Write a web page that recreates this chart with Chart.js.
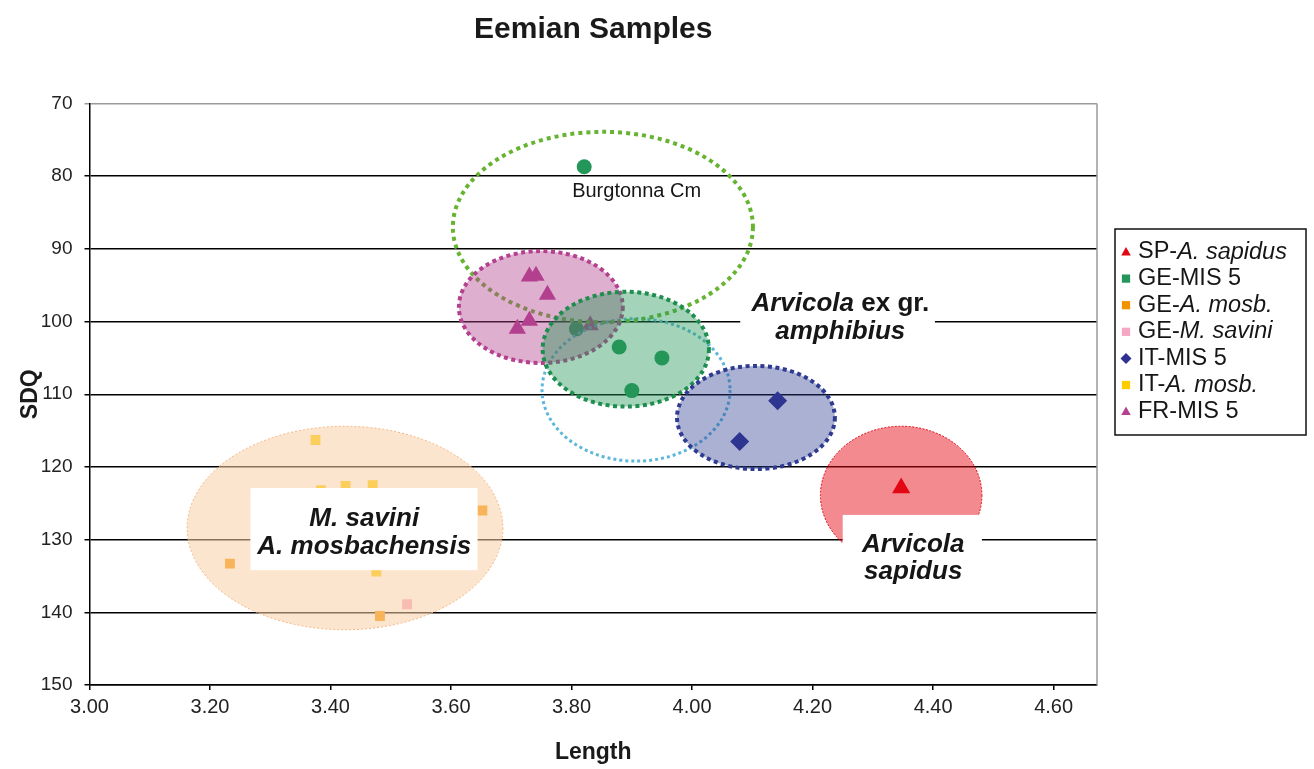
<!DOCTYPE html>
<html>
<head>
<meta charset="utf-8">
<title>Eemian Samples</title>
<script src="https://cdn.jsdelivr.net/npm/chart.js@4.4.1/dist/chart.umd.min.js"></script>
<style>
  html, body { margin: 0; padding: 0; background: #fff; }
  #wrap { width: 1314px; height: 769px; position: relative; }
</style>
</head>
<body>
<div id="wrap"><canvas id="eemianChart"></canvas></div>
<script>
const FONT = '"Liberation Sans", Arial, Helvetica, sans-serif';

// axis ticks
const xTicks = [3.0, 3.2, 3.4, 3.6, 3.8, 4.0, 4.2, 4.4, 4.6];
const yTicks = [70, 80, 90, 100, 110, 120, 130, 140, 150];

// series: Length (x) and SDQ (y)
const spLength = [4.347];
const spSdq = [122.9];
const geMisLength = [3.821, 3.808, 3.879, 3.950, 3.900];
const geMisSdq = [78.7, 101.0, 103.5, 105.0, 109.5];
const geMosbLength = [3.652, 3.233, 3.482];
const geMosbSdq = [126.0, 133.3, 140.5];
const geSaviniLength = [3.527];
const geSaviniSdq = [138.9];
const itMisLength = [4.142, 4.079];
const itMisSdq = [110.9, 116.5];
const itMosbLength = [3.375, 3.384, 3.425, 3.470, 3.476];
const itMosbSdq = [116.3, 123.2, 122.6, 122.5, 134.4];
const frMisLength = [3.730, 3.741, 3.760, 3.730, 3.710, 3.831];
const frMisSdq = [93.8, 93.7, 96.3, 99.9, 101.0, 100.5];

// group ellipses (centre and radii in axis units)
const ellipseX = [3.424, 3.907, 3.852, 3.749, 3.890, 4.106, 4.347];
const ellipseY = [128.4, 109.4, 87.0, 98.0, 103.8, 113.2, 123.9];
const ellipseRx = [0.262, 0.156, 0.249, 0.136, 0.138, 0.131, 0.134];
const ellipseRy = [14.0, 9.8, 13.1, 7.7, 7.9, 7.1, 9.5];

const ellipseStyles = [
  { fill: 'rgba(250,208,165,0.55)', stroke: '#f3b47c', width: 1, dash: [2, 2] },
  { fill: null, stroke: '#5cb8da', width: 3, dash: [3, 3] },
  { fill: null, stroke: '#66b432', width: 4, dash: [4, 4] },
  { fill: 'rgba(179,65,143,0.42)', stroke: '#b3418f', width: 4, dash: [4, 3.5] },
  { fill: 'rgba(35,150,86,0.42)', stroke: '#1e8e4e', width: 4, dash: [4, 3.5] },
  { fill: 'rgba(46,59,146,0.4)', stroke: '#2e3b91', width: 4, dash: [4, 3.5] },
  { fill: 'rgba(227,6,19,0.47)', stroke: '#e30613', width: 1, dash: [2, 1.5] }
];

const zip = (xs, ys) => xs.map((v, i) => ({ x: v, y: ys[i] }));

const BI = 'italic bold 26px ' + FONT;
const B = 'bold 26px ' + FONT;

// white boxes behind the group names (axis units)
const noteBoxes = [
  { x0: 4.080, x1: 4.403, y0: 95.4, y1: 103.6 },
  { x0: 3.267, x1: 3.644, y0: 122.9, y1: 134.2 },
  { x0: 4.250, x1: 4.481, y0: 126.6, y1: 137.3 }
];
const noteLines = [
  { x: 4.246, y: 97.5, parts: [['Arvicola', BI], [' ex gr.', B]] },
  { x: 4.246, y: 101.4, parts: [['amphibius', BI]] },
  { x: 3.456, y: 127.1, parts: [['M. savini', BI]] },
  { x: 3.456, y: 131.0, parts: [['A. mosbachensis', BI]] },
  { x: 4.367, y: 130.7, parts: [['Arvicola', BI]] },
  { x: 4.367, y: 134.4, parts: [['sapidus', BI]] },
  { x: 3.908, y: 82.1, parts: [['Burgtonna Cm', 'normal 20px ' + FONT]] }
];

const legendParts = [
  [['SP-', false], ['A. sapidus', true]],
  [['GE-MIS 5', false]],
  [['GE-', false], ['A. mosb.', true]],
  [['GE-', false], ['M. savini', true]],
  [['IT-MIS 5', false]],
  [['IT-', false], ['A. mosb.', true]],
  [['FR-MIS 5', false]]
];
const legendRadius = [5, 5.5, 5.5, 5.5, 5.5, 5.5, 5];

function drawMarker(ctx, style, x, y, r, color) {
  ctx.fillStyle = color;
  ctx.beginPath();
  if (style === 'triangle') {
    ctx.moveTo(x, y - r);
    ctx.lineTo(x + r * 0.95, y + r * 0.7);
    ctx.lineTo(x - r * 0.95, y + r * 0.7);
  } else if (style === 'rectRot') {
    ctx.moveTo(x, y - r); ctx.lineTo(x + r, y); ctx.lineTo(x, y + r); ctx.lineTo(x - r, y);
  } else {
    const s = r * 0.75;
    ctx.rect(x - s, y - s, 2 * s, 2 * s);
  }
  ctx.closePath();
  ctx.fill();
}

function drawParts(ctx, parts, cx, cy) {
  let total = 0;
  parts.forEach(p => { ctx.font = p[1]; total += ctx.measureText(p[0]).width; });
  let px = cx - total / 2;
  parts.forEach(p => {
    ctx.font = p[1];
    ctx.fillText(p[0], px, cy);
    px += ctx.measureText(p[0]).width;
  });
}

const overlays = {
  id: 'overlays',
  afterDatasetsDraw(chart) {
    const { ctx, chartArea, scales: { x, y } } = chart;
    ctx.save();
    ctx.beginPath();
    ctx.rect(chartArea.left, chartArea.top, chartArea.width, chartArea.height);
    ctx.clip();
    ellipseStyles.forEach((s, i) => {
      const cx = x.getPixelForValue(ellipseX[i]);
      const cy = y.getPixelForValue(ellipseY[i]);
      const rx = Math.abs(x.getPixelForValue(ellipseX[i] + ellipseRx[i]) - cx);
      const ry = Math.abs(y.getPixelForValue(ellipseY[i] + ellipseRy[i]) - cy);
      ctx.beginPath();
      ctx.ellipse(cx, cy, rx, ry, 0, 0, Math.PI * 2);
      if (s.fill) { ctx.fillStyle = s.fill; ctx.fill(); }
      ctx.setLineDash(s.dash);
      ctx.lineWidth = s.width;
      ctx.strokeStyle = s.stroke;
      ctx.stroke();
    });
    ctx.setLineDash([]);

    // white label boxes and group names
    ctx.fillStyle = '#fff';
    noteBoxes.forEach(b => {
      const x0 = x.getPixelForValue(b.x0), x1 = x.getPixelForValue(b.x1);
      const y0 = y.getPixelForValue(b.y0), y1 = y.getPixelForValue(b.y1);
      ctx.fillRect(x0, y0, x1 - x0, y1 - y0);
    });
    ctx.fillStyle = '#161616';
    ctx.textBaseline = 'middle';
    ctx.textAlign = 'left';
    noteLines.forEach(n => drawParts(ctx, n.parts, x.getPixelForValue(n.x), y.getPixelForValue(n.y)));
    ctx.restore();

    // grey right frame
    ctx.save();
    ctx.strokeStyle = '#9a9a9a';
    ctx.lineWidth = 1.5;
    ctx.beginPath();
    ctx.moveTo(chartArea.right, chartArea.top);
    ctx.lineTo(chartArea.right, chartArea.bottom);
    ctx.stroke();
    ctx.restore();
  },
  afterDraw(chart) {
    const { ctx, chartArea } = chart;
    const left = chartArea.right + 18, top = 229, w = 191, h = 206;
    ctx.save();
    ctx.fillStyle = '#fff';
    ctx.fillRect(left, top, w, h);
    ctx.strokeStyle = '#111';
    ctx.lineWidth = 1.5;
    ctx.strokeRect(left, top, w, h);
    ctx.textBaseline = 'middle';
    ctx.textAlign = 'left';
    chart.data.datasets.forEach((ds, i) => {
      const yy = top + 23 + i * 26.6;
      drawMarker(ctx, ds.pointStyle, left + 11, yy, legendRadius[i], ds.backgroundColor);
      let px = left + 23;
      ctx.fillStyle = '#161616';
      legendParts[i].forEach(p => {
        ctx.font = (p[1] ? 'italic ' : '') + '23.5px ' + FONT;
        ctx.fillText(p[0], px, yy);
        px += ctx.measureText(p[0]).width;
      });
    });
    ctx.restore();
  }
};

const ctx = document.getElementById('eemianChart');
new Chart(ctx, {
  type: 'scatter',
  data: {
    datasets: [
      { label: 'SP-A. sapidus', data: zip(spLength, spSdq), pointStyle: 'triangle', pointRadius: 10.5, backgroundColor: '#e30613', borderWidth: 0 },
      { label: 'GE-MIS 5', data: zip(geMisLength, geMisSdq), pointStyle: 'circle', pointRadius: 7.5, backgroundColor: '#23965a', borderWidth: 0 },
      { label: 'GE-A. mosb.', data: zip(geMosbLength, geMosbSdq), pointStyle: 'rect', pointRadius: 7, backgroundColor: '#f39200', borderWidth: 0 },
      { label: 'GE-M. savini', data: zip(geSaviniLength, geSaviniSdq), pointStyle: 'rect', pointRadius: 7, backgroundColor: '#f4a6c2', borderWidth: 0 },
      { label: 'IT-MIS 5', data: zip(itMisLength, itMisSdq), pointStyle: 'rectRot', pointRadius: 9.5, backgroundColor: '#2e3192', borderWidth: 0 },
      { label: 'IT-A. mosb.', data: zip(itMosbLength, itMosbSdq), pointStyle: 'rect', pointRadius: 7, backgroundColor: '#ffcc00', borderWidth: 0 },
      { label: 'FR-MIS 5', data: zip(frMisLength, frMisSdq), pointStyle: 'triangle', pointRadius: 10, backgroundColor: '#b3418f', borderWidth: 0 }
    ]
  },
  options: {
    responsive: true,
    maintainAspectRatio: false,
    animation: false,
    layout: { padding: { left: 0, right: 217, top: 0, bottom: 0 } },
    plugins: {
      legend: { display: false },
      title: {
        display: true,
        text: 'Eemian Samples',
        fullSize: false,
        color: '#1a1a1a',
        font: { family: FONT, size: 30, weight: 'bold' },
        padding: { top: 12, bottom: 55.5 }
      }
    },
    scales: {
      x: {
        type: 'linear',
        min: 3.0,
        max: 4.672,
        afterBuildTicks: s => { s.ticks = xTicks.map(v => ({ value: v })); },
        afterFit: s => { s.height = 84; },
        grid: { drawOnChartArea: false, drawTicks: true, tickLength: 5, color: '#000', lineWidth: 1.5 },
        border: { color: '#000', width: 1.5 },
        ticks: { padding: 5, color: '#222', font: { family: FONT, size: 20 }, callback: v => Number(v).toFixed(2) },
        title: { display: true, text: 'Length', color: '#1a1a1a', font: { family: FONT, size: 23, weight: 'bold' }, padding: { top: 0, bottom: 3 } }
      },
      y: {
        type: 'linear',
        reverse: true,
        min: 70,
        max: 150,
        afterBuildTicks: s => { s.ticks = yTicks.map(v => ({ value: v })); },
        afterFit: s => { s.width = 89.5; },
        grid: { color: c => (c.tick && c.tick.value === 70 ? '#9a9a9a' : '#000'), lineWidth: 1.5, tickLength: 5 },
        border: { color: '#000', width: 1.5 },
        ticks: { padding: 12, color: '#222', font: { family: FONT, size: 19 } },
        title: { display: true, text: 'SDQ', color: '#1a1a1a', font: { family: FONT, size: 23, weight: 'bold' }, padding: { top: 17, bottom: 0 } }
      }
    }
  },
  plugins: [overlays]
});
</script>
</body>
</html>
